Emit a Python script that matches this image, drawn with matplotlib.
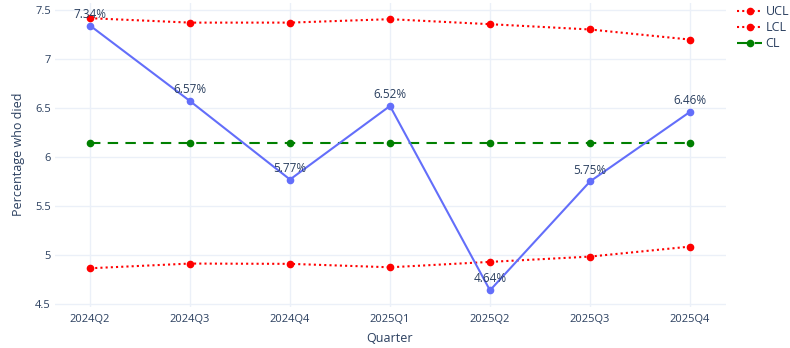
import matplotlib
matplotlib.use("Agg")
import matplotlib.pyplot as plt

plt.rcParams['font.family'] = ['Open Sans', 'DejaVu Sans']

quarters = ["2024Q2", "2024Q3", "2024Q4", "2025Q1", "2025Q2", "2025Q3", "2025Q4"]
pct_died = [7.34, 6.57, 5.77, 6.52, 4.64, 5.75, 6.46]
ucl = [7.415, 7.37, 7.37, 7.405, 7.354, 7.30, 7.197]
lcl = [4.865, 4.913, 4.91, 4.875, 4.93, 4.984, 5.086]
cl = [6.14] * len(quarters)

TEXT = "#2a3f5f"
GRID = "#ebf0f8"

fig = plt.figure(figsize=(7.9, 3.48), dpi=100)
left_px, right_px, top_px, bottom_px = 55, 726, 3, 307
ax = fig.add_axes([left_px / 790, 1 - bottom_px / 348,
                   (right_px - left_px) / 790, (bottom_px - top_px) / 348])

x = list(range(len(quarters)))
ax.plot(x, pct_died, color="#636efa", lw=1.5, marker="o", ms=4.5, zorder=4)
ax.plot(x, ucl, color="red", lw=1.5, ls=(0, (1, 1.5)), marker="o", ms=4.5, label="UCL", zorder=3)
ax.plot(x, lcl, color="red", lw=1.5, ls=(0, (1, 1.5)), marker="o", ms=4.5, label="LCL", zorder=3)
ax.plot(x, cl, color="green", lw=1.5, ls=(0, (5, 3.5)), marker="o", ms=4.5, label="CL", zorder=3)

for xi, v in zip(x, pct_died):
    ax.annotate(f"{v:.2f}%", (xi, v), xytext=(0, 3.5), textcoords="offset points",
                ha="center", va="bottom", fontsize=8.5, color=TEXT, zorder=5)

ax.set_xlim(-0.35, 6.36)
ax.set_ylim(4.47, 7.57)
ax.set_xticks(x)
ax.set_xticklabels(quarters)
ax.set_yticks([4.5, 5, 5.5, 6, 6.5, 7, 7.5])
ax.set_yticklabels(["4.5", "5", "5.5", "6", "6.5", "7", "7.5"])
ax.tick_params(axis="both", length=0, labelsize=8, colors=TEXT)
ax.tick_params(axis="x", pad=5)
ax.tick_params(axis="y", pad=3)
ax.grid(True, color=GRID, lw=1)
ax.set_axisbelow(True)
for s in ax.spines.values():
    s.set_visible(False)

ax.set_xlabel("Quarter", fontsize=9, color=TEXT)
ax.xaxis.set_label_coords((390 - left_px) / (right_px - left_px), -(332 - bottom_px) / (bottom_px - top_px))
ax.set_ylabel("Percentage who died", fontsize=9, color=TEXT)
ax.yaxis.set_label_coords(-(left_px - 25) / (right_px - left_px), (bottom_px - 154) / (bottom_px - top_px))

leg = ax.legend(loc="upper left", bbox_to_anchor=(737 / 790, 1 - 5 / 348), bbox_transform=fig.transFigure,
                frameon=False, fontsize=9, handlelength=2.0, handletextpad=0.3,
                labelspacing=0.25, borderaxespad=0, borderpad=0)
for t in leg.get_texts():
    t.set_color(TEXT)

fig.savefig("out.png", dpi=100)
